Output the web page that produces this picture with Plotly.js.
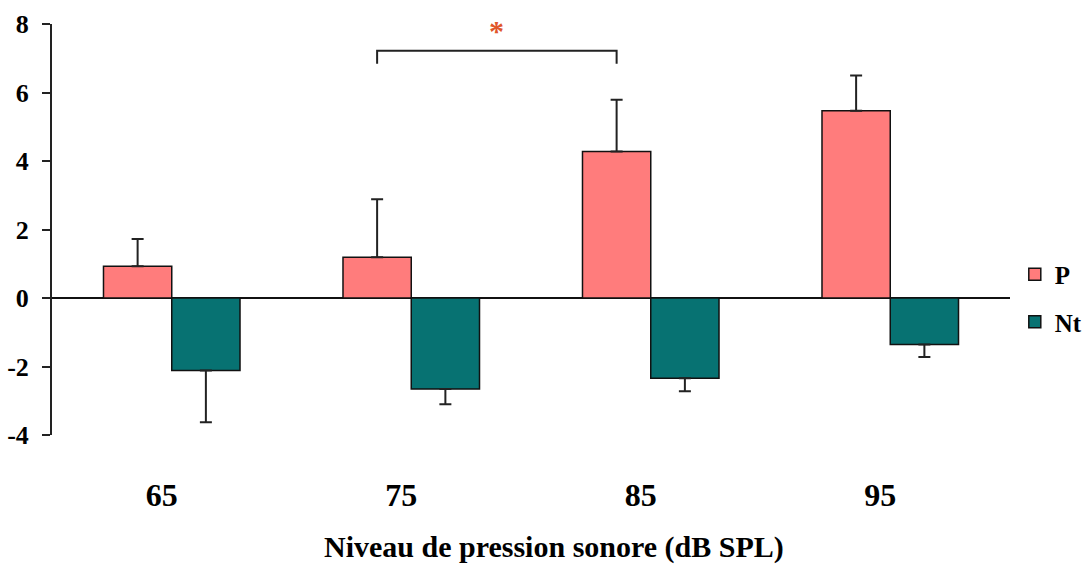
<!DOCTYPE html>
<html>
<head>
<meta charset="utf-8">
<script src="https://cdn.plot.ly/plotly-3.0.1.min.js"></script>
<style>html,body{margin:0;padding:0;background:#fff;}#chart{width:1083px;height:567px;}</style>
</head>
<body>
<div id="chart"></div>
<script>
// Data
const levels = ['65', '75', '85', '95'];
const pValues = [0.93, 1.19, 4.28, 5.47];
const pErrors = [0.79, 1.69, 1.51, 1.03];
const ntValues = [-2.12, -2.66, -2.34, -1.36];
const ntErrors = [1.51, 0.44, 0.38, 0.36];
const yTicks = [-4, -2, 0, 2, 4, 6, 8];
const xTitle = 'Niveau de pression sonore (dB SPL)';
const sigPair = ['75', '85'];   // compared P bars
const sigLevel = 7.22;          // bracket height
const sigDrop = 0.38;           // bracket leg length
const sigLabel = '*';

const serif = 'Liberation Serif, Times New Roman, serif';
const bargap = 0.43;
const zeros = levels.map(() => 0);

const traceP = {
  type: 'bar', name: 'P', x: levels, y: pValues, legendgroup: 'p',
  marker: {color: '#ff7c7c', line: {color: '#111', width: 1.5}},
  error_y: {type: 'data', symmetric: false, array: pErrors, arrayminus: zeros,
            color: '#222', thickness: 2, width: 6}
};
const traceNt = {
  type: 'bar', name: 'Nt', x: levels, y: ntValues, legendgroup: 'nt',
  marker: {color: '#077272', line: {color: '#111', width: 1.5}},
  error_y: {type: 'data', symmetric: false, array: zeros, arrayminus: ntErrors,
            color: '#222', thickness: 2, width: 6}
};

// bracket between the P bars of the two compared levels
const groupW = 1 - bargap;
const pOffset = -groupW / 4;
const xa = levels.indexOf(sigPair[0]) + pOffset;
const xb = levels.indexOf(sigPair[1]) + pOffset;
const bracket = {
  type: 'path', xref: 'x', yref: 'y',
  path: `M ${xa} ${sigLevel - sigDrop} L ${xa} ${sigLevel} L ${xb} ${sigLevel} L ${xb} ${sigLevel - sigDrop}`,
  line: {color: '#222', width: 2}
};

const yMin = yTicks[0], yMax = yTicks[yTicks.length - 1];

const layout = {
  width: 1083, height: 567,
  margin: {l: 52, r: 73, t: 24, b: 132, autoexpand: false},
  paper_bgcolor: '#fff', plot_bgcolor: '#fff',
  barmode: 'group', bargap: bargap, bargroupgap: 0,
  showlegend: true,
  legend: {x: 1.005, xanchor: 'left', y: (0 - yMin) / (yMax - yMin), yanchor: 'middle',
           font: {family: serif, size: 25, color: '#000', weight: 'bold'},
           traceorder: 'grouped', tracegroupgap: 12, itemwidth: 30,
           bgcolor: 'rgba(0,0,0,0)'},
  xaxis: {
    type: 'category', categoryorder: 'array', categoryarray: levels,
    range: [-0.5, levels.length - 0.5],
    showline: false, showgrid: false, zeroline: false, ticks: '',
    tickfont: {family: serif, size: 32, color: '#000', weight: 'bold'},
    ticklabelstandoff: 38, ticklabelshift: -10
  },
  yaxis: {
    range: [yMin, yMax], tickvals: yTicks, ticktext: yTicks.map(String),
    showline: true, linecolor: '#222', linewidth: 2,
    ticks: 'outside', ticklen: 8, tickwidth: 2, tickcolor: '#222',
    showgrid: false, zeroline: true, zerolinecolor: '#111', zerolinewidth: 2,
    tickfont: {family: serif, size: 26, color: '#000', weight: 'bold'},
    ticklabelstandoff: 8
  },
  shapes: [bracket],
  annotations: [{
    xref: 'x', yref: 'y', x: (xa + xb) / 2, y: sigLevel + 0.6,
    text: sigLabel, showarrow: false,
    font: {family: serif, size: 30, color: '#e0562a', weight: 'bold'}
  }, {
    xref: 'paper', yref: 'paper', x: 0.524, y: -0.272, xanchor: 'center', yanchor: 'middle',
    text: xTitle, showarrow: false,
    font: {family: serif, size: 30, color: '#000', weight: 'bold'}
  }]
};

Plotly.newPlot('chart', [traceP, traceNt], layout, {staticPlot: true, displayModeBar: false});
</script>
</body>
</html>
